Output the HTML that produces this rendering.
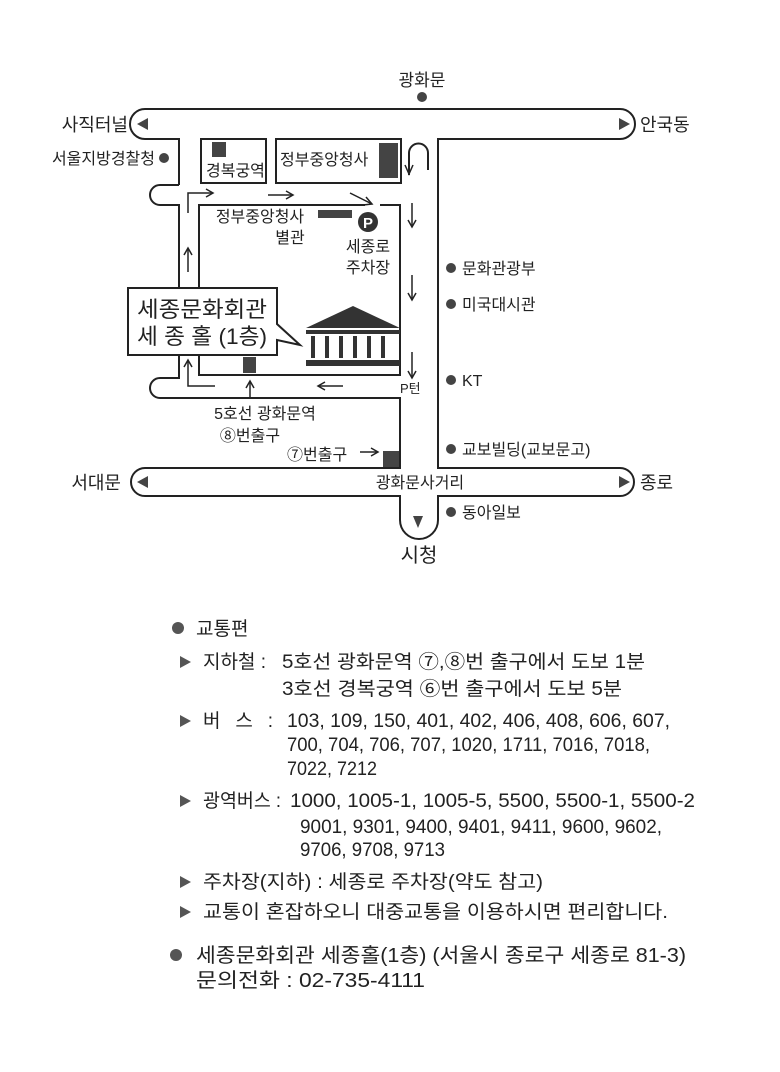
<!DOCTYPE html>
<html><head><meta charset="utf-8"><style>
body{margin:0;background:#fff}
svg{display:block}
text{font-family:"Liberation Sans","Noto Sans CJK KR",sans-serif;fill:#222}
</style></head><body>
<svg width="780" height="1072" viewBox="0 0 780 1072" xmlns="http://www.w3.org/2000/svg">
<g fill="none" stroke="#222" stroke-width="2">
<path d="M179 185 L179 139 L145 139 A15 15 0 0 1 145 109 L620 109 A15 15 0 0 1 620 139 L438 139 L438 468 L620 468 A14 14 0 0 1 620 496 L438 496 L438 520 A19 19 0 0 1 400 520 L400 496 L145 496 A14 14 0 0 1 145 468 L400 468 L400 398 L160 398 A10 10 0 0 1 160 378 L179 378 L179 355"/>
<path d="M179 288 L179 205 L160 205 A10 10 0 0 1 160 185 L179 185"/>
<rect x="201" y="139" width="65" height="44"/>
<rect x="276" y="139" width="125" height="44"/>
<path d="M365 205 L199 205 L199 375 L400 375 L400 205 L380 205"/>
<path d="M128 288 L277 288 L277 324 L300 345 L277 340 L277 355 L128 355 Z" fill="#fff"/>
<path d="M188 213 L188 193 L212 193" stroke-width="1.5"/>
<path d="M215 386 L188 386 L188 360" stroke-width="1.5"/>
<path d="M409 175 L409 153 A9 9 0 0 1 428 153 L428 170" stroke-width="2"/>
</g>
<g stroke="#222" stroke-width="1.5" fill="none">
<line x1="268" y1="195" x2="292" y2="195"/><path d="M286 191 L293 195 L286 199"/>
<path d="M206 189 L213 193 L206 197"/>
<line x1="350" y1="193" x2="372" y2="204"/><path d="M363 205 L372 204 L366 197"/>
<line x1="188" y1="272" x2="188" y2="248"/><path d="M184 255 L188 248 L192 255"/>
<path d="M184 367 L188 360 L192 367"/>
<line x1="412" y1="203" x2="412" y2="227"/><path d="M408 220 L412 227 L416 220"/>
<line x1="412" y1="275" x2="412" y2="300"/><path d="M408 293 L412 300 L416 293"/>
<line x1="412" y1="352" x2="412" y2="378"/><path d="M408 371 L412 378 L416 371"/>
<path d="M405 165 L409 174 L413 165"/>
<line x1="318" y1="386" x2="343" y2="386"/><path d="M325 382 L318 386 L325 390"/>
<line x1="250" y1="398" x2="250" y2="382"/><path d="M246 388 L250 381 L254 388"/>
<line x1="360" y1="452" x2="377" y2="452"/><path d="M371 448 L378 452 L371 456"/>
</g>
<g fill="#444">
<rect x="212" y="142" width="14" height="15"/>
<rect x="379" y="143" width="19" height="35"/>
<rect x="318" y="210" width="34" height="8"/>
<rect x="243" y="357" width="13" height="16"/>
<rect x="383" y="451" width="16" height="16"/>
<path d="M137 124 L148 118 L148 130 Z"/>
<path d="M630 124 L619 118 L619 130 Z"/>
<path d="M137 482 L148 476 L148 488 Z"/>
<path d="M630 482 L619 476 L619 488 Z"/>
<path d="M413 516 L423 516 L418 528 Z"/>
<circle cx="422" cy="97" r="5"/><circle cx="164" cy="158" r="5"/>
<circle cx="451" cy="268" r="5"/><circle cx="451" cy="304" r="5"/><circle cx="451" cy="380" r="5"/><circle cx="451" cy="449" r="5"/><circle cx="451" cy="512" r="5"/>
</g>
<circle cx="368" cy="222" r="10" fill="#333"/>
<text x="368" y="228" font-size="15" font-weight="bold" text-anchor="middle" style="fill:#fff">P</text>
<g fill="#333">
<path d="M306 328 L353 306 L400 328 Z"/>
<rect x="306" y="330" width="94" height="4"/>
<rect x="311" y="336" width="4" height="22"/><rect x="325" y="336" width="4" height="22"/><rect x="339" y="336" width="4" height="22"/><rect x="353" y="336" width="4" height="22"/><rect x="367" y="336" width="4" height="22"/><rect x="381" y="336" width="4" height="22"/>
<rect x="306" y="360" width="94" height="6"/>
</g>
<g font-size="16">
<text x="422" y="86" text-anchor="middle" font-size="17">광화문</text>
<text x="128" y="131" text-anchor="end" font-size="18">사직터널</text>
<text x="640" y="131" font-size="18">안국동</text>
<text x="155" y="164" text-anchor="end" font-size="16">서울지방경찰청</text>
<text x="206" y="176" font-size="16">경복궁역</text>
<text x="280" y="165" font-size="16">정부중앙청사</text>
<text x="260" y="222" text-anchor="middle" font-size="16">정부중앙청사</text>
<text x="290" y="243" text-anchor="middle" font-size="16">별관</text>
<text x="368" y="252" text-anchor="middle" font-size="16">세종로</text>
<text x="368" y="273" text-anchor="middle" font-size="16">주차장</text>
<text x="137" y="317" font-size="22" textLength="130" lengthAdjust="spacingAndGlyphs">세종문화회관</text>
<text x="137" y="344" font-size="22" textLength="130" lengthAdjust="spacingAndGlyphs">세 종 홀 (1층)</text>
<text x="400" y="393" font-size="13">P턴</text>
<text x="462" y="274" font-size="16">문화관광부</text>
<text x="462" y="310" font-size="16">미국대시관</text>
<text x="462" y="386" font-size="16">KT</text>
<text x="462" y="455" font-size="16">교보빌딩(교보문고)</text>
<text x="462" y="518" font-size="16">동아일보</text>
<text x="265" y="419" text-anchor="middle" font-size="16">5호선 광화문역</text>
<text x="250" y="441" text-anchor="middle" font-size="16">⑧번출구</text>
<text x="287" y="460" font-size="16">⑦번출구</text>
<text x="420" y="488" text-anchor="middle" font-size="16">광화문사거리</text>
<text x="121" y="489" text-anchor="end" font-size="18">서대문</text>
<text x="640" y="489" font-size="18">종로</text>
<text x="419" y="562" text-anchor="middle" font-size="20">시청</text>
</g>
<g font-size="19">
<circle cx="178" cy="628" r="6" fill="#555"/>
<text x="196" y="635">교통편</text>
<g fill="#555"><path d="M180 656 L191 662 L180 668 Z"/><path d="M180 715 L191 721 L180 727 Z"/><path d="M180 795 L191 801 L180 807 Z"/><path d="M180 876 L191 882 L180 888 Z"/><path d="M180 906 L191 912 L180 918 Z"/></g>
<text x="203" y="668">지하철 :</text>
<text x="282" y="668" textLength="363" lengthAdjust="spacingAndGlyphs">5호선 광화문역 ⑦,⑧번 출구에서 도보 1분</text>
<text x="282" y="695" textLength="340" lengthAdjust="spacingAndGlyphs">3호선 경복궁역 ⑥번 출구에서 도보 5분</text>
<text x="203" y="727" textLength="70" lengthAdjust="spacing">버 스 :</text>
<text x="287" y="727" textLength="383" lengthAdjust="spacingAndGlyphs">103, 109, 150, 401, 402, 406, 408, 606, 607,</text>
<text x="287" y="751" textLength="363" lengthAdjust="spacingAndGlyphs">700, 704, 706, 707, 1020, 1711, 7016, 7018,</text>
<text x="287" y="775" textLength="90" lengthAdjust="spacingAndGlyphs">7022, 7212</text>
<text x="203" y="807" textLength="78" lengthAdjust="spacingAndGlyphs">광역버스 :</text>
<text x="290" y="807" textLength="405" lengthAdjust="spacingAndGlyphs">1000, 1005-1, 1005-5, 5500, 5500-1, 5500-2</text>
<text x="300" y="833" textLength="362" lengthAdjust="spacingAndGlyphs">9001, 9301, 9400, 9401, 9411, 9600, 9602,</text>
<text x="300" y="856" textLength="145" lengthAdjust="spacingAndGlyphs">9706, 9708, 9713</text>
<text x="203" y="888" textLength="340" lengthAdjust="spacingAndGlyphs">주차장(지하) : 세종로 주차장(약도 참고)</text>
<text x="203" y="918" textLength="465" lengthAdjust="spacingAndGlyphs">교통이 혼잡하오니 대중교통을 이용하시면 편리합니다.</text>
<circle cx="176" cy="955" r="6" fill="#555"/>
<text x="196" y="962" font-size="20" textLength="490" lengthAdjust="spacingAndGlyphs">세종문화회관 세종홀(1층) (서울시 종로구 세종로 81-3)</text>
<text x="196" y="987" font-size="20" textLength="229" lengthAdjust="spacingAndGlyphs">문의전화 : 02-735-4111</text>
</g>
</svg>
</body></html>
